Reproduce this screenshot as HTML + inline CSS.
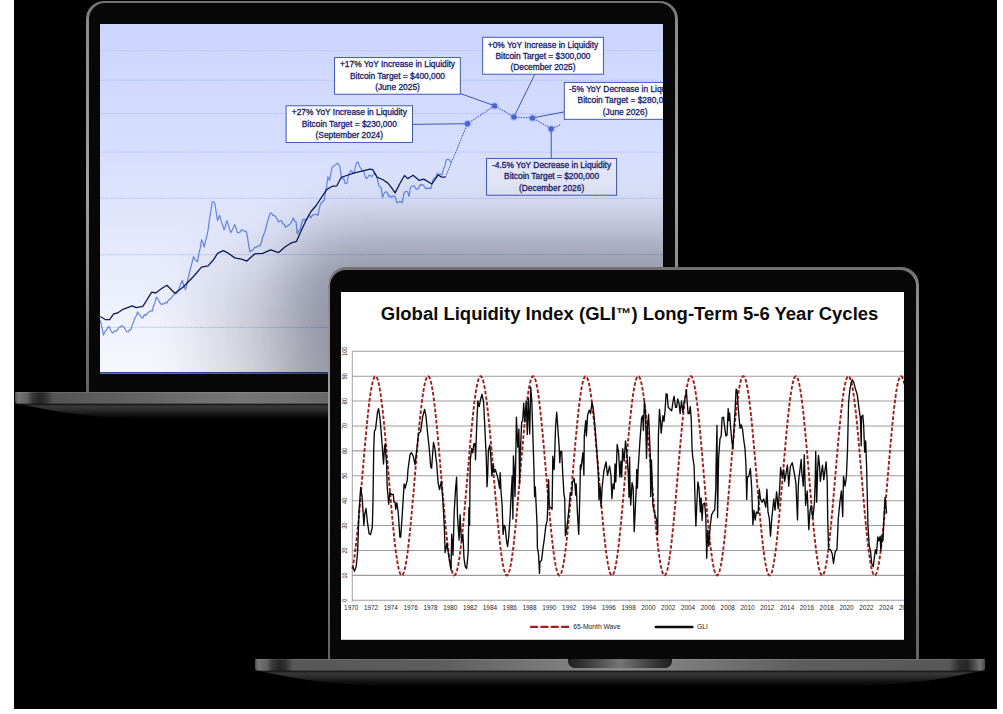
<!DOCTYPE html>
<html><head><meta charset="utf-8"><title>GLI</title>
<style>
html,body{margin:0;padding:0;background:#fff;}
body{width:1003px;height:714px;position:relative;overflow:hidden;font-family:"Liberation Sans",sans-serif;}
#bg{position:absolute;left:14px;top:0;width:983px;height:708.7px;background:#000;overflow:hidden;}
#stage{position:absolute;left:-14px;top:0;width:1003px;height:714px;}
.lid{position:absolute;box-sizing:border-box;border-radius:18px 18px 0 0;background:linear-gradient(180deg,#6f6f6f 0,#727272 3px,#8a8a8a 22px,#919191 13%,#a2a2a2 48%,#8c8c8c 70%,#6e6e6e 87%,#626262 100%);}
.lidin{position:absolute;left:2.3px;top:2.3px;right:2.3px;bottom:0;border-radius:16px 16px 0 0;background:#080808;}
.scr{position:absolute;display:block;}
.base{position:absolute;background:
 linear-gradient(180deg,rgba(255,255,255,.18) 0,rgba(255,255,255,.0) 1.5px,rgba(0,0,0,0) 10.5px,rgba(0,0,0,.55) 12.3px),
 linear-gradient(90deg,#4a4a4a 0,#747474 3px,#626262 12px,#3a3a3a 17px,#262626 24px,#2e2e2e 30px,#585858 38px,#5d5d5d 25%,#8d8d8d 50%,#5d5d5d 75%,#585858 calc(100% - 36px),#2e2e2e calc(100% - 26px),#262626 calc(100% - 18px),#4a4a4a calc(100% - 11px),#747474 calc(100% - 5px),#4a4a4a 100%);
 border-radius:1px 1px 3px 3px;}
.notch{position:absolute;top:0;height:9.4px;border-radius:0 0 7px 7px;background:linear-gradient(90deg,#1d1d1d 0,#3a3a3a 18%,#767676 50%,#3a3a3a 82%,#1d1d1d 100%);}
.under{position:absolute;display:block;}
.an{font-family:"Liberation Sans",sans-serif;font-size:8.4px;fill:#16216b;stroke:#16216b;stroke-width:.3px;}
.ttl{font-family:"Liberation Sans",sans-serif;font-size:18.5px;font-weight:bold;fill:#0b0b0b;}
.yl{font-family:"Liberation Sans",sans-serif;font-size:6.3px;fill:#2a2a2a;}
.xl{font-family:"Liberation Sans",sans-serif;font-size:6.4px;fill:#1c1c1c;}
.lg{font-family:"Liberation Sans",sans-serif;font-size:6.75px;fill:#1c1c1c;}
#b1{background:linear-gradient(180deg,rgba(255,255,255,.18) 0,rgba(255,255,255,.0) 1.5px,rgba(0,0,0,0) 10.5px,rgba(0,0,0,.55) 12.3px),linear-gradient(90deg,#4a4a4a 0,#747474 3px,#626262 12px,#3a3a3a 17px,#262626 24px,#2e2e2e 30px,#545454 38px,#606060 105px,#6c6c6c 165px,#767676 225px,#707070 275px,#696969 313px,#8d8d8d 50%,#5d5d5d 75%,#3a3a3a 100%);}
#sh{position:absolute;overflow:hidden;}
#sh div{position:absolute;border-radius:18px 18px 0 0;box-shadow:0 0 58px 41px rgba(5,8,26,.29),-120px -2px 66px 0 rgba(5,8,26,.15);}
</style></head><body>
<div id="bg"><div id="stage">
<div class="lid" id="l1" style="left:86.4px;top:0.6px;width:591.2px;height:392.6px"><div class="lidin"></div></div>
<svg class="scr" style="left:100.0px;top:24.0px" width="563.0" height="349.6" viewBox="100.0 24.0 563.0 349.6">
<defs><linearGradient id="g1" x1="0" y1="0" x2="0" y2="1"><stop offset="0" stop-color="#cbd5fe"/><stop offset="0.35" stop-color="#d6defd"/><stop offset="0.7" stop-color="#e9ecfc"/><stop offset="1" stop-color="#f7f8fe"/></linearGradient></defs>
<rect x="100.0" y="24.0" width="563.0" height="349.6" fill="url(#g1)"/>
<line x1="100" x2="663" y1="50.599999999999994" y2="50.599999999999994" stroke="#b0bcf7" stroke-width="0.9" stroke-dasharray="1.6 0.9"/>
<line x1="100" x2="663" y1="80.3" y2="80.3" stroke="#b0bcf7" stroke-width="0.9" stroke-dasharray="1.6 0.9"/>
<line x1="100" x2="663" y1="113.6" y2="113.6" stroke="#b0bcf7" stroke-width="0.9" stroke-dasharray="1.6 0.9"/>
<line x1="100" x2="663" y1="152.10000000000002" y2="152.10000000000002" stroke="#b0bcf7" stroke-width="0.9" stroke-dasharray="1.6 0.9"/>
<line x1="100" x2="663" y1="198.3" y2="198.3" stroke="#b0bcf7" stroke-width="0.9" stroke-dasharray="1.6 0.9"/>
<line x1="100" x2="663" y1="254.70000000000002" y2="254.70000000000002" stroke="#b0bcf7" stroke-width="0.9" stroke-dasharray="1.6 0.9"/>
<line x1="100" x2="663" y1="327.40000000000003" y2="327.40000000000003" stroke="#b0bcf7" stroke-width="0.9" stroke-dasharray="1.6 0.9"/>
<line x1="100" x2="663" y1="372.8" y2="372.8" stroke="#33479f" stroke-width="1.5"/>
<polyline points="100.3,320.5 101.9,327.3 103.5,335.1 105.1,331.4 106.7,329.8 108.3,326.6 109.6,327.6 111.0,331.0 112.3,333.0 113.6,332.0 115.0,330.6 116.3,331.1 117.6,329.8 118.9,327.2 120.3,327.0 121.6,325.8 122.9,326.2 124.3,327.8 125.7,330.2 127.0,331.9 128.3,332.0 129.6,329.5 130.9,329.8 132.2,325.1 133.6,322.1 134.9,317.8 136.2,316.0 137.6,311.9 138.9,314.1 140.3,315.6 141.6,317.8 142.9,318.0 144.2,314.6 145.6,315.7 146.9,313.8 148.2,312.6 149.6,311.5 150.9,310.8 152.2,311.1 153.5,306.0 154.9,302.7 156.2,297.3 157.5,298.3 158.9,301.1 160.2,303.1 161.6,304.5 162.9,303.8 164.2,303.9 165.6,302.3 166.9,303.1 168.2,300.4 169.5,299.2 170.9,298.8 172.2,296.6 173.5,295.2 174.8,293.8 176.2,293.6 177.5,292.5 179.1,288.4 180.7,284.0 182.3,280.5 183.9,285.9 185.5,289.8 186.8,284.6 188.2,277.6 189.5,272.5 190.8,267.4 192.2,262.0 193.5,256.6 194.8,259.3 196.2,260.7 197.5,261.9 198.8,254.0 200.2,248.4 201.5,239.8 202.8,242.5 204.2,247.2 205.5,241.2 206.8,236.3 208.1,229.9 209.4,219.7 210.8,211.3 212.1,202.0 213.4,201.5 214.8,203.3 216.2,212.4 217.5,220.6 219.6,215.3 221.1,220.9 222.6,225.2 224.1,229.9 225.4,226.2 226.8,220.6 228.1,224.1 229.5,229.1 230.8,232.6 232.1,230.2 233.5,227.5 234.8,224.6 236.1,228.5 237.4,232.6 238.7,232.6 240.1,232.0 241.4,229.9 243.0,230.3 244.6,231.3 246.2,231.3 247.5,237.0 248.7,245.5 250.0,251.8 251.6,250.6 253.1,250.0 254.7,247.2 256.1,247.7 257.4,246.0 258.8,245.9 260.1,245.9 261.4,242.3 262.8,236.7 264.1,233.8 265.4,229.9 267.0,223.5 268.6,217.8 270.2,213.2 271.4,212.8 272.7,215.3 273.9,215.3 275.5,216.5 277.1,219.0 278.7,221.9 280.0,221.0 281.4,220.6 282.7,223.8 284.1,224.0 285.4,227.3 286.7,226.3 288.1,225.6 289.4,224.6 290.7,223.4 292.0,221.0 293.3,218.0 294.6,220.9 296.0,221.9 297.3,233.9 298.6,231.2 300.0,229.7 301.4,224.6 302.7,219.9 303.9,219.2 305.1,220.3 306.3,219.0 307.6,217.9 309.0,214.5 310.8,218.0 312.0,215.9 313.2,214.8 314.4,214.5 316.1,214.3 317.9,215.4 319.2,208.9 320.6,203.7 321.8,202.5 323.0,201.5 324.2,200.1 325.5,191.9 326.9,184.9 327.8,176.8 329.6,180.4 331.0,172.4 332.3,166.9 334.1,166.0 335.3,164.9 336.5,163.9 337.7,163.3 338.8,164.8 339.8,166.0 341.3,176.8 342.6,178.9 344.0,178.6 344.9,183.1 345.9,183.6 347.0,183.1 348.8,174.1 350.0,172.3 351.1,170.5 352.5,172.2 353.8,173.2 354.9,169.2 356.0,164.2 357.1,162.1 358.3,162.4 359.6,166.6 361.0,168.7 362.4,170.8 363.7,171.4 365.0,176.0 366.4,178.6 367.8,177.6 369.1,175.0 370.5,175.6 371.8,176.8 373.1,174.7 374.5,173.2 375.9,174.9 377.2,178.6 379.0,185.8 380.1,187.0 381.1,187.6 382.6,197.4 383.9,193.6 385.2,192.0 387.0,192.0 388.8,196.5 390.1,195.8 391.5,197.4 392.7,196.3 393.9,195.9 395.1,196.5 396.9,202.8 398.2,202.4 399.6,201.6 400.9,201.5 402.3,202.8 404.1,192.9 405.3,191.7 406.5,191.3 407.7,192.0 409.1,196.5 410.4,187.6 411.8,186.3 413.1,185.8 414.5,185.9 415.8,188.5 417.1,189.5 418.5,188.5 420.2,184.5 421.4,185.2 422.6,184.5 423.8,185.8 425.6,188.8 427.0,188.1 428.3,188.3 429.6,188.2 431.0,188.5 432.8,180.4 434.1,178.1 435.5,177.7 437.3,173.2 438.6,174.6 440.0,174.1 441.8,175.0 443.6,168.7 445.0,165.5 446.3,159.7 447.6,159.5 449.0,159.4 450.8,162.4" fill="none" stroke="#6486e4" stroke-width="1.2" stroke-linejoin="round"/>
<polyline points="100.3,316.5 105.6,319.7 109.6,319.7 113.6,313.8 117.6,313.0 123.0,309.3 132.3,305.8 136.3,307.7 142.9,306.3 151.7,292.2 155.7,293.0 161.6,288.5 166.9,285.3 174.9,293.3 182.9,287.2 193.5,276.5 201.5,267.2 208.1,265.9 213.5,259.8 217.5,253.4 223.3,250.7 228.1,253.1 234.8,257.9 241.4,259.2 246.8,261.1 254.7,253.9 262.7,253.4 270.7,249.9 278.7,252.6 284.6,247.2 290.7,243.2 296.5,241.4 300.0,233.3 305.4,221.7 310.8,211.8 316.2,205.5 321.5,197.4 326.9,189.4 332.3,186.3 336.8,185.8 341.3,177.3 346.7,175.5 353.8,173.2 362.8,170.9 370.0,169.1 372.7,169.6 377.2,177.3 382.6,179.5 387.9,183.1 391.5,187.6 395.1,192.9 399.6,184.0 404.5,175.5 407.7,178.6 413.1,175.2 419.3,180.4 423.8,179.1 431.9,184.0 438.2,175.0 441.8,177.2 445.4,177.2" fill="none" stroke="#101c5a" stroke-width="1.3" stroke-linejoin="round"/>
<polyline points="445.4,177.2 467.5,123.7 494.6,105.8 513.9,117.0 532.5,118.0 551.2,128.8 561.4,124.4" fill="none" stroke="#3a57c0" stroke-width="1.1" stroke-dasharray="1.4 1.2"/>
<line x1="412.5" y1="124.4" x2="467.5" y2="123.7" stroke="#2d46ad" stroke-width="0.9"/>
<line x1="460.3" y1="93.5" x2="494.6" y2="105.8" stroke="#2d46ad" stroke-width="0.9"/>
<line x1="534.9" y1="74.2" x2="513.9" y2="117" stroke="#2d46ad" stroke-width="0.9"/>
<line x1="564.3" y1="111.9" x2="532.4" y2="117.9" stroke="#2d46ad" stroke-width="0.9"/>
<line x1="551.2" y1="158.3" x2="551.2" y2="128.8" stroke="#2d46ad" stroke-width="0.9"/>
<circle cx="467.5" cy="123.7" r="3.9" fill="#5a78e0" fill-opacity="0.28"/>
<circle cx="467.5" cy="123.7" r="2.6" fill="#4664d2"/>
<circle cx="494.6" cy="105.8" r="3.9" fill="#5a78e0" fill-opacity="0.28"/>
<circle cx="494.6" cy="105.8" r="2.6" fill="#4664d2"/>
<circle cx="513.9" cy="117" r="3.9" fill="#5a78e0" fill-opacity="0.28"/>
<circle cx="513.9" cy="117" r="2.6" fill="#4664d2"/>
<circle cx="532.5" cy="118" r="3.9" fill="#5a78e0" fill-opacity="0.28"/>
<circle cx="532.5" cy="118" r="2.6" fill="#4664d2"/>
<circle cx="551.2" cy="128.8" r="3.9" fill="#5a78e0" fill-opacity="0.28"/>
<circle cx="551.2" cy="128.8" r="2.6" fill="#4664d2"/>
<rect x="286.1" y="105.8" width="126.4" height="36.6" fill="#ffffff" stroke="#3048b0" stroke-width="0.9"/>
<text x="349.3" y="115.3" text-anchor="middle" class="an">+27% YoY Increase in Liquidity</text>
<text x="349.3" y="126.7" text-anchor="middle" class="an">Bitcoin Target = $230,000</text>
<text x="349.3" y="138.0" text-anchor="middle" class="an">(September 2024)</text>
<rect x="334.6" y="57.6" width="125.7" height="36.6" fill="#ffffff" stroke="#3048b0" stroke-width="0.9"/>
<text x="397.5" y="66.9" text-anchor="middle" class="an">+17% YoY Increase in Liquidity</text>
<text x="397.5" y="78.8" text-anchor="middle" class="an">Bitcoin Target = $400,000</text>
<text x="397.5" y="90.2" text-anchor="middle" class="an">(June 2025)</text>
<rect x="482.7" y="37.3" width="120.7" height="36.9" fill="#ffffff" stroke="#3048b0" stroke-width="0.9"/>
<text x="543.0" y="47.8" text-anchor="middle" class="an">+0% YoY Increase in Liquidity</text>
<text x="543.0" y="58.8" text-anchor="middle" class="an">Bitcoin Target = $300,000</text>
<text x="543.0" y="69.8" text-anchor="middle" class="an">(December 2025)</text>
<rect x="564.3" y="82.4" width="135.7" height="36.9" fill="#ffffff" stroke="#3048b0" stroke-width="0.9"/>
<text x="625.1" y="91.9" text-anchor="middle" class="an">-5% YoY Decrease in Liquidity</text>
<text x="625.1" y="103.2" text-anchor="middle" class="an">Bitcoin Target = $280,000</text>
<text x="625.1" y="114.8" text-anchor="middle" class="an">(June 2026)</text>
<rect x="486.6" y="158.4" width="130.0" height="36.8" fill="#e3e7f8" stroke="#3048b0" stroke-width="0.9"/>
<text x="551.6" y="168.0" text-anchor="middle" class="an">-4.5% YoY Decrease in Liquidity</text>
<text x="551.6" y="179.2" text-anchor="middle" class="an">Bitcoin Target = $200,000</text>
<text x="551.6" y="190.8" text-anchor="middle" class="an">(December 2026)</text>
</svg>
<div id="sh" style="left:100.0px;top:24.0px;width:563.0px;height:349.6px"><div style="left:227.60000000000002px;top:243.3px;width:591.0px;height:391.7px"></div></div>
<div class="lid" id="l2" style="left:327.6px;top:267.3px;width:591.0px;height:391.7px"><div class="lidin"></div></div>
<div style="position:absolute;left:0;top:0;width:327.6px;height:714px;overflow:hidden"><div class="base" id="b1" style="left:14.8px;top:392.1px;width:729.5px;height:12.3px"></div><svg class="under" style="left:14.8px;top:404.00000000000006px" width="729.5" height="18" viewBox="0 0 729.5 18"><defs><linearGradient id="ub1" gradientUnits="userSpaceOnUse" x1="0" y1="0" x2="0" y2="16"><stop offset="0" stop-color="#141414"/><stop offset="0.14" stop-color="#383838"/><stop offset="0.38" stop-color="#2b2b2b"/><stop offset="0.7" stop-color="#101010"/><stop offset="1" stop-color="#000"/></linearGradient></defs><path d="M0,0 L0.0,0.00 L1.0,0.00 L2.0,0.08 L3.0,0.19 L4.0,0.32 L5.0,0.47 L6.0,0.62 L7.0,0.78 L8.0,0.95 L9.0,1.12 L10.0,1.30 L11.0,1.48 L12.0,1.67 L13.0,1.86 L14.0,2.05 L15.0,2.24 L16.0,2.43 L17.0,2.63 L18.0,2.82 L19.0,3.02 L20.0,3.21 L21.0,3.41 L22.0,3.61 L23.0,3.80 L24.0,4.00 L25.0,4.19 L26.0,4.39 L27.0,4.58 L28.0,4.77 L29.0,4.96 L30.0,5.15 L31.0,5.34 L32.0,5.53 L33.0,5.71 L34.0,5.90 L35.0,6.08 L36.0,6.26 L37.0,6.44 L38.0,6.61 L39.0,6.79 L40.0,6.96 L41.0,7.13 L42.0,7.30 L43.0,7.47 L44.0,7.63 L45.0,7.80 L46.0,7.96 L47.0,8.12 L48.0,8.27 L49.0,8.43 L50.0,8.58 L51.0,8.73 L52.0,8.88 L53.0,9.02 L54.0,9.17 L55.0,9.31 L56.0,9.45 L57.0,9.59 L58.0,9.72 L59.0,9.85 L60.0,9.99 L61.0,10.11 L62.0,10.24 L63.0,10.36 L64.0,10.49 L65.0,10.61 L66.0,10.73 L67.0,10.84 L68.0,10.96 L69.0,11.07 L70.0,11.18 L71.0,11.29 L72.0,11.39 L73.0,11.50 L74.0,11.60 L75.0,11.70 L76.0,11.80 L77.0,11.89 L78.0,11.99 L79.0,12.08 L80.0,12.17 L81.0,12.26 L82.0,12.35 L83.0,12.43 L84.0,12.52 L85.0,12.60 L86.0,12.68 L87.0,12.76 L88.0,12.84 L89.0,12.91 L90.0,12.99 L91.0,13.06 L92.0,13.13 L93.0,13.20 L94.0,13.27 L95.0,13.34 L96.0,13.40 L97.0,13.46 L98.0,13.53 L99.0,13.59 L100.0,13.65 L101.0,13.71 L102.0,13.76 L103.0,13.82 L104.0,13.87 L105.0,13.93 L106.0,13.98 L107.0,14.03 L108.0,14.08 L109.0,14.13 L110.0,14.18 L111.0,14.23 L112.0,14.27 L113.0,14.32 L114.0,14.36 L115.0,14.40 L116.0,14.44 L117.0,14.48 L118.0,14.52 L119.0,14.56 L120.0,14.60 L121.0,14.64 L122.0,14.67 L123.0,14.71 L124.0,14.74 L125.0,14.77 L126.0,14.81 L127.0,14.84 L128.0,14.87 L129.0,14.90 L130.0,14.93 L131.0,14.96 L132.0,14.99 L133.0,15.01 L134.0,15.04 L135.0,15.07 L136.0,15.09 L137.0,15.12 L138.0,15.14 L139.0,15.16 L140.0,15.19 L141.0,15.21 L142.0,15.23 L143.0,15.25 L144.0,15.27 L145.0,15.29 L146.0,15.31 L147.0,15.33 L148.0,15.35 L149.0,15.37 L150.0,15.39 L151.0,15.40 L152.0,15.42 L153.0,15.44 L154.0,15.45 L155.0,15.47 L156.0,15.48 L157.0,15.50 L158.0,15.51 L159.0,15.53 L160.0,15.54 L161.0,15.55 L162.0,15.57 L163.0,15.58 L164.0,15.59 L165.0,15.60 L166.0,15.61 L167.0,15.63 L168.0,15.64 L169.0,15.65 L170.0,15.66 L171.0,15.67 L172.0,15.68 L173.0,15.69 L174.0,15.70 L175.0,15.70 L176.0,15.71 L177.0,15.72 L178.0,15.73 L179.0,15.74 L180.0,15.75 L181.0,15.75 L182.0,15.76 L183.0,15.77 L184.0,15.77 L185.0,15.78 L186.0,15.79 L187.0,15.79 L188.0,15.80 L189.0,15.81 L190.0,15.81 L191.0,15.82 L192.0,15.82 L193.0,15.83 L194.0,15.83 L195.0,15.84 L196.0,15.84 L197.0,15.85 L198.0,15.85 L199.0,15.86 L200.0,15.86 L201.0,15.87 L202.0,15.87 L203.0,15.87 L204.0,15.88 L205.0,15.88 L206.0,15.89 L207.0,15.89 L208.0,15.89 L209.0,15.90 L210.0,15.90 L211.0,15.90 L212.0,15.91 L213.0,15.91 L214.0,15.91 L215.0,15.91 L216.0,15.92 L217.0,15.92 L218.0,15.92 L219.0,15.92 L220.0,15.93 L221.0,15.93 L222.0,15.93 L223.0,15.93 L224.0,15.94 L225.0,15.94 L226.0,15.94 L227.0,15.94 L228.0,15.94 L229.0,15.94 L230.0,15.95 L231.0,15.95 L232.0,15.95 L233.0,15.95 L234.0,15.95 L235.0,15.95 L236.0,15.96 L237.0,15.96 L238.0,15.96 L239.0,15.96 L240.0,15.96 L241.0,15.96 L242.0,15.96 L243.0,15.97 L244.0,15.97 L245.0,15.97 L246.0,15.97 L247.0,15.97 L248.0,15.97 L249.0,15.97 L250.0,15.97 L251.0,15.97 L252.0,15.97 L253.0,15.97 L254.0,15.98 L255.0,15.98 L256.0,15.98 L257.0,15.98 L258.0,15.98 L259.0,15.98 L260.0,15.98 L261.0,15.98 L262.0,15.98 L263.0,15.98 L264.0,15.98 L265.0,15.98 L266.0,15.98 L267.0,15.98 L268.0,15.98 L269.0,15.99 L270.0,15.99 L271.0,15.99 L272.0,15.99 L273.0,15.99 L274.0,15.99 L275.0,15.99 L276.0,15.99 L277.0,15.99 L278.0,15.99 L279.0,15.99 L280.0,15.99 L281.0,15.99 L282.0,15.99 L283.0,15.99 L284.0,15.99 L285.0,15.99 L286.0,15.99 L287.0,15.99 L288.0,15.99 L289.0,15.99 L290.0,15.99 L291.0,15.99 L292.0,15.99 L293.0,15.99 L294.0,15.99 L295.0,15.99 L296.0,15.99 L297.0,15.99 L298.0,15.99 L299.0,15.99 L300.0,15.99 L301.0,16.00 L302.0,16.00 L303.0,16.00 L304.0,16.00 L305.0,16.00 L306.0,16.00 L307.0,16.00 L308.0,16.00 L309.0,16.00 L310.0,16.00 L311.0,16.00 L312.0,16.00 L313.0,16.00 L314.0,16.00 L315.0,16.00 L316.0,16.00 L317.0,16.00 L318.0,16.00 L319.0,16.00 L320.0,16.00 L321.0,16.00 L322.0,16.00 L323.0,16.00 L324.0,16.00 L325.0,16.00 L326.0,16.00 L327.0,16.00 L328.0,16.00 L329.0,16.00 L330.0,16.00 L331.0,16.00 L332.0,16.00 L333.0,16.00 L334.0,16.00 L335.0,16.00 L336.0,16.00 L337.0,16.00 L338.0,16.00 L339.0,16.00 L340.0,16.00 L341.0,16.00 L342.0,16.00 L343.0,16.00 L344.0,16.00 L345.0,16.00 L346.0,16.00 L347.0,16.00 L348.0,16.00 L349.0,16.00 L350.0,16.00 L351.0,16.00 L352.0,16.00 L353.0,16.00 L354.0,16.00 L355.0,16.00 L356.0,16.00 L357.0,16.00 L358.0,16.00 L359.0,16.00 L360.0,16.00 L361.0,16.00 L362.0,16.00 L363.0,16.00 L364.0,16.00 L365.0,16.00 L366.0,16.00 L367.0,16.00 L368.0,16.00 L369.0,16.00 L370.0,16.00 L371.0,16.00 L372.0,16.00 L373.0,16.00 L374.0,16.00 L375.0,16.00 L376.0,16.00 L377.0,16.00 L378.0,16.00 L379.0,16.00 L380.0,16.00 L381.0,16.00 L382.0,16.00 L383.0,16.00 L384.0,16.00 L385.0,16.00 L386.0,16.00 L387.0,16.00 L388.0,16.00 L389.0,16.00 L390.0,16.00 L391.0,16.00 L392.0,16.00 L393.0,16.00 L394.0,16.00 L395.0,16.00 L396.0,16.00 L397.0,16.00 L398.0,16.00 L399.0,16.00 L400.0,16.00 L401.0,16.00 L402.0,16.00 L403.0,16.00 L404.0,16.00 L405.0,16.00 L406.0,16.00 L407.0,16.00 L408.0,16.00 L409.0,16.00 L410.0,16.00 L411.0,16.00 L412.0,16.00 L413.0,16.00 L414.0,16.00 L415.0,16.00 L416.0,16.00 L417.0,16.00 L418.0,16.00 L419.0,16.00 L420.0,16.00 L421.0,16.00 L422.0,16.00 L423.0,16.00 L424.0,16.00 L425.0,16.00 L426.0,16.00 L427.0,16.00 L428.0,16.00 L429.0,16.00 L430.0,15.99 L431.0,15.99 L432.0,15.99 L433.0,15.99 L434.0,15.99 L435.0,15.99 L436.0,15.99 L437.0,15.99 L438.0,15.99 L439.0,15.99 L440.0,15.99 L441.0,15.99 L442.0,15.99 L443.0,15.99 L444.0,15.99 L445.0,15.99 L446.0,15.99 L447.0,15.99 L448.0,15.99 L449.0,15.99 L450.0,15.99 L451.0,15.99 L452.0,15.99 L453.0,15.99 L454.0,15.99 L455.0,15.99 L456.0,15.99 L457.0,15.99 L458.0,15.99 L459.0,15.99 L460.0,15.99 L461.0,15.99 L462.0,15.98 L463.0,15.98 L464.0,15.98 L465.0,15.98 L466.0,15.98 L467.0,15.98 L468.0,15.98 L469.0,15.98 L470.0,15.98 L471.0,15.98 L472.0,15.98 L473.0,15.98 L474.0,15.98 L475.0,15.98 L476.0,15.98 L477.0,15.97 L478.0,15.97 L479.0,15.97 L480.0,15.97 L481.0,15.97 L482.0,15.97 L483.0,15.97 L484.0,15.97 L485.0,15.97 L486.0,15.97 L487.0,15.96 L488.0,15.96 L489.0,15.96 L490.0,15.96 L491.0,15.96 L492.0,15.96 L493.0,15.96 L494.0,15.96 L495.0,15.95 L496.0,15.95 L497.0,15.95 L498.0,15.95 L499.0,15.95 L500.0,15.95 L501.0,15.94 L502.0,15.94 L503.0,15.94 L504.0,15.94 L505.0,15.94 L506.0,15.93 L507.0,15.93 L508.0,15.93 L509.0,15.93 L510.0,15.93 L511.0,15.92 L512.0,15.92 L513.0,15.92 L514.0,15.92 L515.0,15.91 L516.0,15.91 L517.0,15.91 L518.0,15.90 L519.0,15.90 L520.0,15.90 L521.0,15.89 L522.0,15.89 L523.0,15.89 L524.0,15.88 L525.0,15.88 L526.0,15.88 L527.0,15.87 L528.0,15.87 L529.0,15.86 L530.0,15.86 L531.0,15.86 L532.0,15.85 L533.0,15.85 L534.0,15.84 L535.0,15.84 L536.0,15.83 L537.0,15.83 L538.0,15.82 L539.0,15.81 L540.0,15.81 L541.0,15.80 L542.0,15.80 L543.0,15.79 L544.0,15.78 L545.0,15.78 L546.0,15.77 L547.0,15.76 L548.0,15.76 L549.0,15.75 L550.0,15.74 L551.0,15.73 L552.0,15.73 L553.0,15.72 L554.0,15.71 L555.0,15.70 L556.0,15.69 L557.0,15.68 L558.0,15.67 L559.0,15.66 L560.0,15.65 L561.0,15.64 L562.0,15.63 L563.0,15.62 L564.0,15.61 L565.0,15.60 L566.0,15.58 L567.0,15.57 L568.0,15.56 L569.0,15.55 L570.0,15.53 L571.0,15.52 L572.0,15.51 L573.0,15.49 L574.0,15.48 L575.0,15.46 L576.0,15.45 L577.0,15.43 L578.0,15.41 L579.0,15.40 L580.0,15.38 L581.0,15.36 L582.0,15.34 L583.0,15.32 L584.0,15.30 L585.0,15.28 L586.0,15.26 L587.0,15.24 L588.0,15.22 L589.0,15.20 L590.0,15.18 L591.0,15.15 L592.0,15.13 L593.0,15.11 L594.0,15.08 L595.0,15.05 L596.0,15.03 L597.0,15.00 L598.0,14.97 L599.0,14.94 L600.0,14.92 L601.0,14.89 L602.0,14.85 L603.0,14.82 L604.0,14.79 L605.0,14.76 L606.0,14.72 L607.0,14.69 L608.0,14.65 L609.0,14.62 L610.0,14.58 L611.0,14.54 L612.0,14.50 L613.0,14.46 L614.0,14.42 L615.0,14.38 L616.0,14.34 L617.0,14.29 L618.0,14.25 L619.0,14.20 L620.0,14.15 L621.0,14.11 L622.0,14.06 L623.0,14.01 L624.0,13.95 L625.0,13.90 L626.0,13.85 L627.0,13.79 L628.0,13.74 L629.0,13.68 L630.0,13.62 L631.0,13.56 L632.0,13.50 L633.0,13.43 L634.0,13.37 L635.0,13.30 L636.0,13.23 L637.0,13.17 L638.0,13.10 L639.0,13.02 L640.0,12.95 L641.0,12.87 L642.0,12.80 L643.0,12.72 L644.0,12.64 L645.0,12.56 L646.0,12.48 L647.0,12.39 L648.0,12.30 L649.0,12.22 L650.0,12.13 L651.0,12.03 L652.0,11.94 L653.0,11.84 L654.0,11.75 L655.0,11.65 L656.0,11.55 L657.0,11.44 L658.0,11.34 L659.0,11.23 L660.0,11.12 L661.0,11.01 L662.0,10.90 L663.0,10.78 L664.0,10.67 L665.0,10.55 L666.0,10.43 L667.0,10.30 L668.0,10.18 L669.0,10.05 L670.0,9.92 L671.0,9.79 L672.0,9.65 L673.0,9.52 L674.0,9.38 L675.0,9.24 L676.0,9.10 L677.0,8.95 L678.0,8.81 L679.0,8.66 L680.0,8.50 L681.0,8.35 L682.0,8.20 L683.0,8.04 L684.0,7.88 L685.0,7.72 L686.0,7.55 L687.0,7.39 L688.0,7.22 L689.0,7.05 L690.0,6.88 L691.0,6.70 L692.0,6.53 L693.0,6.35 L694.0,6.17 L695.0,5.99 L696.0,5.80 L697.0,5.62 L698.0,5.43 L699.0,5.25 L700.0,5.06 L701.0,4.87 L702.0,4.68 L703.0,4.48 L704.0,4.29 L705.0,4.10 L706.0,3.90 L707.0,3.70 L708.0,3.51 L709.0,3.31 L710.0,3.12 L711.0,2.92 L712.0,2.72 L713.0,2.53 L714.0,2.34 L715.0,2.14 L716.0,1.95 L717.0,1.76 L718.0,1.58 L719.0,1.39 L720.0,1.21 L721.0,1.04 L722.0,0.87 L723.0,0.70 L724.0,0.54 L725.0,0.39 L726.0,0.25 L727.0,0.13 L728.0,0.03 L729.0,0.00 L729.5,0 Z" fill="url(#ub1)"/></svg></div>
<svg class="scr" style="left:341.0px;top:292.0px" width="563.0" height="347.8" viewBox="341.0 292.0 563.0 347.8">
<rect x="341.0" y="292.0" width="563.0" height="347.8" fill="#ffffff"/>
<text x="380.8" y="319.8" class="ttl">Global Liquidity Index (GLI<tspan font-size="15.5" dy="-0.5">™</tspan><tspan dy="0.5">)</tspan> Long-Term 5-6 Year Cycles</text>
<line x1="352.3" x2="904" y1="600.3" y2="600.3" stroke="#9c9c9c" stroke-width="1.05"/>
<text transform="translate(346.8,600.3) rotate(-90) scale(0.87,1)" text-anchor="middle" class="yl">0</text>
<line x1="352.3" x2="904" y1="575.4" y2="575.4" stroke="#9c9c9c" stroke-width="1.05"/>
<text transform="translate(346.8,575.4) rotate(-90) scale(0.87,1)" text-anchor="middle" class="yl">10</text>
<line x1="352.3" x2="904" y1="550.5" y2="550.5" stroke="#9c9c9c" stroke-width="1.05"/>
<text transform="translate(346.8,550.5) rotate(-90) scale(0.87,1)" text-anchor="middle" class="yl">20</text>
<line x1="352.3" x2="904" y1="525.6" y2="525.6" stroke="#9c9c9c" stroke-width="1.05"/>
<text transform="translate(346.8,525.6) rotate(-90) scale(0.87,1)" text-anchor="middle" class="yl">30</text>
<line x1="352.3" x2="904" y1="500.7" y2="500.7" stroke="#9c9c9c" stroke-width="1.05"/>
<text transform="translate(346.8,500.7) rotate(-90) scale(0.87,1)" text-anchor="middle" class="yl">40</text>
<line x1="352.3" x2="904" y1="475.8" y2="475.8" stroke="#9c9c9c" stroke-width="1.05"/>
<text transform="translate(346.8,475.8) rotate(-90) scale(0.87,1)" text-anchor="middle" class="yl">50</text>
<line x1="352.3" x2="904" y1="450.9" y2="450.9" stroke="#9c9c9c" stroke-width="1.05"/>
<text transform="translate(346.8,450.9) rotate(-90) scale(0.87,1)" text-anchor="middle" class="yl">60</text>
<line x1="352.3" x2="904" y1="426.0" y2="426.0" stroke="#9c9c9c" stroke-width="1.05"/>
<text transform="translate(346.8,426.0) rotate(-90) scale(0.87,1)" text-anchor="middle" class="yl">70</text>
<line x1="352.3" x2="904" y1="401.1" y2="401.1" stroke="#9c9c9c" stroke-width="1.05"/>
<text transform="translate(346.8,401.1) rotate(-90) scale(0.87,1)" text-anchor="middle" class="yl">80</text>
<line x1="352.3" x2="904" y1="376.2" y2="376.2" stroke="#9c9c9c" stroke-width="1.05"/>
<text transform="translate(346.8,376.2) rotate(-90) scale(0.87,1)" text-anchor="middle" class="yl">90</text>
<line x1="352.3" x2="904" y1="351.3" y2="351.3" stroke="#9c9c9c" stroke-width="1.05"/>
<text transform="translate(346.8,351.3) rotate(-90) scale(0.87,1)" text-anchor="middle" class="yl">100</text>
<line x1="352.3" x2="352.3" y1="351.3" y2="600.3" stroke="#8c8c8c" stroke-width="0.8"/>
<line x1="352.2" x2="352.2" y1="600.3" y2="601.9" stroke="#8c8c8c" stroke-width="0.6"/>
<text x="351.2" y="609.8" text-anchor="middle" class="xl">1970</text>
<line x1="372.0" x2="372.0" y1="600.3" y2="601.9" stroke="#8c8c8c" stroke-width="0.6"/>
<text x="371.0" y="609.8" text-anchor="middle" class="xl">1972</text>
<line x1="391.8" x2="391.8" y1="600.3" y2="601.9" stroke="#8c8c8c" stroke-width="0.6"/>
<text x="390.8" y="609.8" text-anchor="middle" class="xl">1974</text>
<line x1="411.6" x2="411.6" y1="600.3" y2="601.9" stroke="#8c8c8c" stroke-width="0.6"/>
<text x="410.6" y="609.8" text-anchor="middle" class="xl">1976</text>
<line x1="431.5" x2="431.5" y1="600.3" y2="601.9" stroke="#8c8c8c" stroke-width="0.6"/>
<text x="430.5" y="609.8" text-anchor="middle" class="xl">1978</text>
<line x1="451.3" x2="451.3" y1="600.3" y2="601.9" stroke="#8c8c8c" stroke-width="0.6"/>
<text x="450.3" y="609.8" text-anchor="middle" class="xl">1980</text>
<line x1="471.1" x2="471.1" y1="600.3" y2="601.9" stroke="#8c8c8c" stroke-width="0.6"/>
<text x="470.1" y="609.8" text-anchor="middle" class="xl">1982</text>
<line x1="490.9" x2="490.9" y1="600.3" y2="601.9" stroke="#8c8c8c" stroke-width="0.6"/>
<text x="489.9" y="609.8" text-anchor="middle" class="xl">1984</text>
<line x1="510.7" x2="510.7" y1="600.3" y2="601.9" stroke="#8c8c8c" stroke-width="0.6"/>
<text x="509.7" y="609.8" text-anchor="middle" class="xl">1986</text>
<line x1="530.5" x2="530.5" y1="600.3" y2="601.9" stroke="#8c8c8c" stroke-width="0.6"/>
<text x="529.5" y="609.8" text-anchor="middle" class="xl">1988</text>
<line x1="550.3" x2="550.3" y1="600.3" y2="601.9" stroke="#8c8c8c" stroke-width="0.6"/>
<text x="549.3" y="609.8" text-anchor="middle" class="xl">1990</text>
<line x1="570.2" x2="570.2" y1="600.3" y2="601.9" stroke="#8c8c8c" stroke-width="0.6"/>
<text x="569.2" y="609.8" text-anchor="middle" class="xl">1992</text>
<line x1="590.0" x2="590.0" y1="600.3" y2="601.9" stroke="#8c8c8c" stroke-width="0.6"/>
<text x="589.0" y="609.8" text-anchor="middle" class="xl">1994</text>
<line x1="609.8" x2="609.8" y1="600.3" y2="601.9" stroke="#8c8c8c" stroke-width="0.6"/>
<text x="608.8" y="609.8" text-anchor="middle" class="xl">1996</text>
<line x1="629.6" x2="629.6" y1="600.3" y2="601.9" stroke="#8c8c8c" stroke-width="0.6"/>
<text x="628.6" y="609.8" text-anchor="middle" class="xl">1998</text>
<line x1="649.4" x2="649.4" y1="600.3" y2="601.9" stroke="#8c8c8c" stroke-width="0.6"/>
<text x="648.4" y="609.8" text-anchor="middle" class="xl">2000</text>
<line x1="669.2" x2="669.2" y1="600.3" y2="601.9" stroke="#8c8c8c" stroke-width="0.6"/>
<text x="668.2" y="609.8" text-anchor="middle" class="xl">2002</text>
<line x1="689.0" x2="689.0" y1="600.3" y2="601.9" stroke="#8c8c8c" stroke-width="0.6"/>
<text x="688.0" y="609.8" text-anchor="middle" class="xl">2004</text>
<line x1="708.9" x2="708.9" y1="600.3" y2="601.9" stroke="#8c8c8c" stroke-width="0.6"/>
<text x="707.9" y="609.8" text-anchor="middle" class="xl">2006</text>
<line x1="728.7" x2="728.7" y1="600.3" y2="601.9" stroke="#8c8c8c" stroke-width="0.6"/>
<text x="727.7" y="609.8" text-anchor="middle" class="xl">2008</text>
<line x1="748.5" x2="748.5" y1="600.3" y2="601.9" stroke="#8c8c8c" stroke-width="0.6"/>
<text x="747.5" y="609.8" text-anchor="middle" class="xl">2010</text>
<line x1="768.3" x2="768.3" y1="600.3" y2="601.9" stroke="#8c8c8c" stroke-width="0.6"/>
<text x="767.3" y="609.8" text-anchor="middle" class="xl">2012</text>
<line x1="788.1" x2="788.1" y1="600.3" y2="601.9" stroke="#8c8c8c" stroke-width="0.6"/>
<text x="787.1" y="609.8" text-anchor="middle" class="xl">2014</text>
<line x1="807.9" x2="807.9" y1="600.3" y2="601.9" stroke="#8c8c8c" stroke-width="0.6"/>
<text x="806.9" y="609.8" text-anchor="middle" class="xl">2016</text>
<line x1="827.7" x2="827.7" y1="600.3" y2="601.9" stroke="#8c8c8c" stroke-width="0.6"/>
<text x="826.7" y="609.8" text-anchor="middle" class="xl">2018</text>
<line x1="847.5" x2="847.5" y1="600.3" y2="601.9" stroke="#8c8c8c" stroke-width="0.6"/>
<text x="846.5" y="609.8" text-anchor="middle" class="xl">2020</text>
<line x1="867.4" x2="867.4" y1="600.3" y2="601.9" stroke="#8c8c8c" stroke-width="0.6"/>
<text x="866.4" y="609.8" text-anchor="middle" class="xl">2022</text>
<line x1="887.2" x2="887.2" y1="600.3" y2="601.9" stroke="#8c8c8c" stroke-width="0.6"/>
<text x="886.2" y="609.8" text-anchor="middle" class="xl">2024</text>
<line x1="907.0" x2="907.0" y1="600.3" y2="601.9" stroke="#8c8c8c" stroke-width="0.6"/>
<text x="906.0" y="609.8" text-anchor="middle" class="xl">2026</text>
<polyline points="352.3,568.7 352.8,566.4 353.3,563.8 353.8,560.9 354.3,557.6 354.8,554.1 355.3,550.3 355.8,546.2 356.3,541.8 356.8,537.3 357.3,532.5 357.8,527.5 358.3,522.3 358.8,517.0 359.3,511.5 359.8,505.8 360.3,500.1 360.8,494.3 361.3,488.4 361.8,482.5 362.3,476.5 362.8,470.6 363.3,464.7 363.8,458.8 364.3,452.9 364.8,447.2 365.3,441.5 365.8,436.0 366.3,430.6 366.8,425.4 367.3,420.4 367.8,415.5 368.3,410.9 368.8,406.5 369.3,402.3 369.8,398.4 370.3,394.8 370.8,391.5 371.3,388.5 371.8,385.8 372.3,383.4 372.8,381.3 373.3,379.6 373.8,378.3 374.3,377.2 374.8,376.5 375.3,376.2 375.8,376.3 376.3,376.7 376.8,377.4 377.3,378.5 377.8,379.9 378.3,381.7 378.8,383.9 379.3,386.3 379.8,389.1 380.3,392.2 380.8,395.5 381.3,399.2 381.8,403.1 382.3,407.3 382.8,411.8 383.3,416.5 383.8,421.4 384.3,426.4 384.8,431.7 385.3,437.1 385.8,442.7 386.3,448.3 386.8,454.1 387.3,459.9 387.8,465.8 388.3,471.8 388.8,477.7 389.3,483.7 389.8,489.6 390.3,495.5 390.8,501.3 391.3,507.0 391.8,512.6 392.3,518.0 392.8,523.3 393.3,528.5 393.8,533.4 394.3,538.2 394.8,542.7 395.3,547.0 395.8,551.0 396.3,554.8 396.8,558.3 397.3,561.5 397.8,564.4 398.3,566.9 398.8,569.2 399.3,571.1 399.8,572.6 400.3,573.9 400.8,574.7 401.3,575.2 401.8,575.4 402.3,575.2 402.8,574.7 403.3,573.7 403.8,572.5 404.3,570.9 404.8,569.0 405.3,566.7 405.8,564.1 406.3,561.2 406.8,558.0 407.3,554.4 407.8,550.7 408.3,546.6 408.8,542.3 409.3,537.7 409.8,533.0 410.3,528.0 410.8,522.8 411.3,517.5 411.8,512.0 412.3,506.4 412.8,500.7 413.3,494.9 413.8,489.0 414.3,483.1 414.8,477.1 415.3,471.2 415.8,465.3 416.3,459.4 416.8,453.5 417.3,447.8 417.8,442.1 418.3,436.6 418.8,431.2 419.3,425.9 419.8,420.9 420.3,416.0 420.8,411.3 421.3,406.9 421.8,402.7 422.3,398.8 422.8,395.2 423.3,391.8 423.8,388.8 424.3,386.0 424.8,383.6 425.3,381.5 425.8,379.8 426.3,378.4 426.8,377.3 427.3,376.6 427.8,376.2 428.3,376.2 428.8,376.6 429.3,377.3 429.8,378.4 430.3,379.8 430.8,381.5 431.3,383.6 431.8,386.0 432.3,388.8 432.8,391.8 433.3,395.2 433.8,398.8 434.3,402.7 434.8,406.9 435.3,411.3 435.8,416.0 436.3,420.9 436.8,425.9 437.3,431.2 437.8,436.6 438.3,442.1 438.8,447.8 439.3,453.5 439.8,459.4 440.3,465.3 440.8,471.2 441.3,477.1 441.8,483.1 442.3,489.0 442.8,494.9 443.3,500.7 443.8,506.4 444.3,512.0 444.8,517.5 445.3,522.8 445.8,528.0 446.3,533.0 446.8,537.7 447.3,542.3 447.8,546.6 448.3,550.7 448.8,554.4 449.3,558.0 449.8,561.2 450.3,564.1 450.8,566.7 451.3,569.0 451.8,570.9 452.3,572.5 452.8,573.7 453.3,574.7 453.8,575.2 454.3,575.4 454.8,575.2 455.3,574.7 455.8,573.9 456.3,572.6 456.8,571.1 457.3,569.2 457.8,566.9 458.3,564.4 458.8,561.5 459.3,558.3 459.8,554.8 460.3,551.0 460.8,547.0 461.3,542.7 461.8,538.2 462.3,533.4 462.8,528.5 463.3,523.3 463.8,518.0 464.3,512.6 464.8,507.0 465.3,501.3 465.8,495.5 466.3,489.6 466.8,483.7 467.3,477.7 467.8,471.8 468.3,465.8 468.8,459.9 469.3,454.1 469.8,448.3 470.3,442.7 470.8,437.1 471.3,431.7 471.8,426.4 472.3,421.4 472.8,416.5 473.3,411.8 473.8,407.3 474.3,403.1 474.8,399.2 475.3,395.5 475.8,392.2 476.3,389.1 476.8,386.3 477.3,383.9 477.8,381.7 478.3,379.9 478.8,378.5 479.3,377.4 479.8,376.7 480.3,376.3 480.8,376.2 481.3,376.5 481.8,377.2 482.3,378.3 482.8,379.6 483.3,381.3 483.8,383.4 484.3,385.8 484.8,388.5 485.3,391.5 485.8,394.8 486.3,398.4 486.8,402.3 487.3,406.5 487.8,410.9 488.3,415.5 488.8,420.4 489.3,425.4 489.8,430.6 490.3,436.0 490.8,441.5 491.3,447.2 491.8,452.9 492.3,458.8 492.8,464.7 493.3,470.6 493.8,476.5 494.3,482.5 494.8,488.4 495.3,494.3 495.8,500.1 496.3,505.8 496.8,511.5 497.3,517.0 497.8,522.3 498.3,527.5 498.8,532.5 499.3,537.3 499.8,541.8 500.3,546.2 500.8,550.3 501.3,554.1 501.8,557.6 502.3,560.9 502.8,563.8 503.3,566.4 503.8,568.7 504.3,570.7 504.8,572.4 505.3,573.6 505.8,574.6 506.3,575.2 506.8,575.4 507.3,575.3 507.8,574.8 508.3,574.0 508.8,572.8 509.3,571.2 509.8,569.4 510.3,567.2 510.8,564.6 511.3,561.8 511.8,558.6 512.3,555.2 512.8,551.4 513.3,547.4 513.8,543.2 514.3,538.7 514.8,533.9 515.3,529.0 515.8,523.9 516.3,518.6 516.8,513.1 517.3,507.5 517.8,501.8 518.3,496.1 518.8,490.2 519.3,484.3 519.8,478.3 520.3,472.4 520.8,466.4 521.3,460.5 521.8,454.7 522.3,448.9 522.8,443.2 523.3,437.7 523.8,432.2 524.3,426.9 524.8,421.8 525.3,416.9 525.8,412.2 526.3,407.8 526.8,403.6 527.3,399.6 527.8,395.9 528.3,392.5 528.8,389.4 529.3,386.6 529.8,384.1 530.3,381.9 530.8,380.1 531.3,378.6 531.8,377.5 532.3,376.7 532.8,376.3 533.3,376.2 533.8,376.5 534.3,377.1 534.8,378.1 535.3,379.5 535.8,381.2 536.3,383.2 536.8,385.5 537.3,388.2 537.8,391.2 538.3,394.5 538.8,398.1 539.3,401.9 539.8,406.1 540.3,410.4 540.8,415.0 541.3,419.9 541.8,424.9 542.3,430.1 542.8,435.5 543.3,441.0 543.8,446.6 544.3,452.4 544.8,458.2 545.3,464.1 545.8,470.0 546.3,475.9 546.8,481.9 547.3,487.8 547.8,493.7 548.3,499.5 548.8,505.3 549.3,510.9 549.8,516.4 550.3,521.8 550.8,527.0 551.3,532.0 551.8,536.8 552.3,541.4 552.8,545.8 553.3,549.9 553.8,553.7 554.3,557.3 554.8,560.6 555.3,563.5 555.8,566.2 556.3,568.5 556.8,570.5 557.3,572.2 557.8,573.5 558.3,574.5 558.8,575.1 559.3,575.4 559.8,575.3 560.3,574.9 560.8,574.1 561.3,572.9 561.8,571.4 562.3,569.6 562.8,567.4 563.3,564.9 563.8,562.1 564.3,559.0 564.8,555.5 565.3,551.8 565.8,547.8 566.3,543.6 566.8,539.1 567.3,534.4 567.8,529.5 568.3,524.4 568.8,519.1 569.3,513.7 569.8,508.1 570.3,502.4 570.8,496.6 571.3,490.8 571.8,484.9 572.3,478.9 572.8,473.0 573.3,467.0 573.8,461.1 574.3,455.3 574.8,449.5 575.3,443.8 575.8,438.2 576.3,432.8 576.8,427.5 577.3,422.4 577.8,417.4 578.3,412.7 578.8,408.2 579.3,404.0 579.8,400.0 580.3,396.2 580.8,392.8 581.3,389.7 581.8,386.8 582.3,384.3 582.8,382.1 583.3,380.3 583.8,378.8 584.3,377.6 584.8,376.8 585.3,376.3 585.8,376.2 586.3,376.5 586.8,377.1 587.3,378.0 587.8,379.3 588.3,381.0 588.8,383.0 589.3,385.3 589.8,387.9 590.3,390.9 590.8,394.2 591.3,397.7 591.8,401.5 592.3,405.6 592.8,410.0 593.3,414.6 593.8,419.4 594.3,424.4 594.8,429.6 595.3,434.9 595.8,440.4 596.3,446.0 596.8,451.8 597.3,457.6 597.8,463.5 598.3,469.4 598.8,475.4 599.3,481.3 599.8,487.2 600.3,493.1 600.8,499.0 601.3,504.7 601.8,510.3 602.3,515.9 602.8,521.2 603.3,526.5 603.8,531.5 604.3,536.3 604.8,540.9 605.3,545.3 605.8,549.5 606.3,553.3 606.8,556.9 607.3,560.2 607.8,563.2 608.3,565.9 608.8,568.3 609.3,570.3 609.8,572.1 610.3,573.4 610.8,574.4 611.3,575.1 611.8,575.4 612.3,575.3 612.8,574.9 613.3,574.2 613.8,573.0 614.3,571.6 614.8,569.8 615.3,567.6 615.8,565.2 616.3,562.4 616.8,559.3 617.3,555.9 617.8,552.2 618.3,548.3 618.8,544.0 619.3,539.6 619.8,534.9 620.3,530.0 620.8,524.9 621.3,519.6 621.8,514.2 622.3,508.7 622.8,503.0 623.3,497.2 623.8,491.4 624.3,485.5 624.8,479.5 625.3,473.6 625.8,467.6 626.3,461.7 626.8,455.8 627.3,450.0 627.8,444.3 628.3,438.8 628.8,433.3 629.3,428.0 629.8,422.9 630.3,417.9 630.8,413.2 631.3,408.7 631.8,404.4 632.3,400.4 632.8,396.6 633.3,393.1 633.8,390.0 634.3,387.1 634.8,384.6 635.3,382.3 635.8,380.4 636.3,378.9 636.8,377.7 637.3,376.8 637.8,376.3 638.3,376.2 638.8,376.4 639.3,377.0 639.8,377.9 640.3,379.2 640.8,380.8 641.3,382.7 641.8,385.0 642.3,387.7 642.8,390.6 643.3,393.8 643.8,397.3 644.3,401.1 644.8,405.2 645.3,409.5 645.8,414.1 646.3,418.9 646.8,423.9 647.3,429.0 647.8,434.4 648.3,439.9 648.8,445.5 649.3,451.2 649.8,457.0 650.3,462.9 650.8,468.8 651.3,474.8 651.8,480.7 652.3,486.6 652.8,492.5 653.3,498.4 653.8,504.1 654.3,509.8 654.8,515.3 655.3,520.7 655.8,525.9 656.3,531.0 656.8,535.9 657.3,540.5 657.8,544.9 658.3,549.1 658.8,553.0 659.3,556.6 659.8,559.9 660.3,563.0 660.8,565.7 661.3,568.1 661.8,570.2 662.3,571.9 662.8,573.3 663.3,574.3 663.8,575.0 664.3,575.4 664.8,575.3 665.3,575.0 665.8,574.2 666.3,573.2 666.8,571.7 667.3,570.0 667.8,567.9 668.3,565.4 668.8,562.7 669.3,559.6 669.8,556.2 670.3,552.6 670.8,548.7 671.3,544.5 671.8,540.0 672.3,535.4 672.8,530.5 673.3,525.4 673.8,520.2 674.3,514.8 674.8,509.2 675.3,503.6 675.8,497.8 676.3,492.0 676.8,486.1 677.3,480.1 677.8,474.2 678.3,468.2 678.8,462.3 679.3,456.4 679.8,450.6 680.3,444.9 680.8,439.3 681.3,433.8 681.8,428.5 682.3,423.4 682.8,418.4 683.3,413.6 683.8,409.1 684.3,404.8 684.8,400.7 685.3,397.0 685.8,393.5 686.3,390.3 686.8,387.4 687.3,384.8 687.8,382.5 688.3,380.6 688.8,379.0 689.3,377.8 689.8,376.9 690.3,376.4 690.8,376.2 691.3,376.4 691.8,376.9 692.3,377.8 692.8,379.0 693.3,380.6 693.8,382.5 694.3,384.8 694.8,387.4 695.3,390.3 695.8,393.5 696.3,397.0 696.8,400.7 697.3,404.8 697.8,409.1 698.3,413.6 698.8,418.4 699.3,423.4 699.8,428.5 700.3,433.8 700.8,439.3 701.3,444.9 701.8,450.6 702.3,456.4 702.8,462.3 703.3,468.2 703.8,474.2 704.3,480.1 704.8,486.1 705.3,492.0 705.8,497.8 706.3,503.6 706.8,509.2 707.3,514.8 707.8,520.2 708.3,525.4 708.8,530.5 709.3,535.4 709.8,540.0 710.3,544.5 710.8,548.7 711.3,552.6 711.8,556.2 712.3,559.6 712.8,562.7 713.3,565.4 713.8,567.9 714.3,570.0 714.8,571.7 715.3,573.2 715.8,574.2 716.3,575.0 716.8,575.3 717.3,575.4 717.8,575.0 718.3,574.3 718.8,573.3 719.3,571.9 719.8,570.2 720.3,568.1 720.8,565.7 721.3,563.0 721.8,559.9 722.3,556.6 722.8,553.0 723.3,549.1 723.8,544.9 724.3,540.5 724.8,535.9 725.3,531.0 725.8,525.9 726.3,520.7 726.8,515.3 727.3,509.8 727.8,504.1 728.3,498.4 728.8,492.5 729.3,486.6 729.8,480.7 730.3,474.8 730.8,468.8 731.3,462.9 731.8,457.0 732.3,451.2 732.8,445.5 733.3,439.9 733.8,434.4 734.3,429.0 734.8,423.9 735.3,418.9 735.8,414.1 736.3,409.5 736.8,405.2 737.3,401.1 737.8,397.3 738.3,393.8 738.8,390.6 739.3,387.7 739.8,385.0 740.3,382.7 740.8,380.8 741.3,379.2 741.8,377.9 742.3,377.0 742.8,376.4 743.3,376.2 743.8,376.3 744.3,376.8 744.8,377.7 745.3,378.9 745.8,380.4 746.3,382.3 746.8,384.6 747.3,387.1 747.8,390.0 748.3,393.1 748.8,396.6 749.3,400.4 749.8,404.4 750.3,408.7 750.8,413.2 751.3,417.9 751.8,422.9 752.3,428.0 752.8,433.3 753.3,438.8 753.8,444.3 754.3,450.0 754.8,455.8 755.3,461.7 755.8,467.6 756.3,473.6 756.8,479.5 757.3,485.5 757.8,491.4 758.3,497.2 758.8,503.0 759.3,508.7 759.8,514.2 760.3,519.6 760.8,524.9 761.3,530.0 761.8,534.9 762.3,539.6 762.8,544.0 763.3,548.3 763.8,552.2 764.3,555.9 764.8,559.3 765.3,562.4 765.8,565.2 766.3,567.6 766.8,569.8 767.3,571.6 767.8,573.0 768.3,574.2 768.8,574.9 769.3,575.3 769.8,575.4 770.3,575.1 770.8,574.4 771.3,573.4 771.8,572.1 772.3,570.3 772.8,568.3 773.3,565.9 773.8,563.2 774.3,560.2 774.8,556.9 775.3,553.3 775.8,549.5 776.3,545.3 776.8,540.9 777.3,536.3 777.8,531.5 778.3,526.5 778.8,521.2 779.3,515.9 779.8,510.3 780.3,504.7 780.8,499.0 781.3,493.1 781.8,487.2 782.3,481.3 782.8,475.4 783.3,469.4 783.8,463.5 784.3,457.6 784.8,451.8 785.3,446.0 785.8,440.4 786.3,434.9 786.8,429.6 787.3,424.4 787.8,419.4 788.3,414.6 788.8,410.0 789.3,405.6 789.8,401.5 790.3,397.7 790.8,394.2 791.3,390.9 791.8,387.9 792.3,385.3 792.8,383.0 793.3,381.0 793.8,379.3 794.3,378.0 794.8,377.1 795.3,376.5 795.8,376.2 796.3,376.3 796.8,376.8 797.3,377.6 797.8,378.8 798.3,380.3 798.8,382.1 799.3,384.3 799.8,386.8 800.3,389.7 800.8,392.8 801.3,396.2 801.8,400.0 802.3,404.0 802.8,408.2 803.3,412.7 803.8,417.4 804.3,422.4 804.8,427.5 805.3,432.8 805.8,438.2 806.3,443.8 806.8,449.5 807.3,455.3 807.8,461.1 808.3,467.0 808.8,473.0 809.3,478.9 809.8,484.9 810.3,490.8 810.8,496.6 811.3,502.4 811.8,508.1 812.3,513.7 812.8,519.1 813.3,524.4 813.8,529.5 814.3,534.4 814.8,539.1 815.3,543.6 815.8,547.8 816.3,551.8 816.8,555.5 817.3,559.0 817.8,562.1 818.3,564.9 818.8,567.4 819.3,569.6 819.8,571.4 820.3,572.9 820.8,574.1 821.3,574.9 821.8,575.3 822.3,575.4 822.8,575.1 823.3,574.5 823.8,573.5 824.3,572.2 824.8,570.5 825.3,568.5 825.8,566.2 826.3,563.5 826.8,560.6 827.3,557.3 827.8,553.7 828.3,549.9 828.8,545.8 829.3,541.4 829.8,536.8 830.3,532.0 830.8,527.0 831.3,521.8 831.8,516.4 832.3,510.9 832.8,505.3 833.3,499.5 833.8,493.7 834.3,487.8 834.8,481.9 835.3,475.9 835.8,470.0 836.3,464.1 836.8,458.2 837.3,452.4 837.8,446.6 838.3,441.0 838.8,435.5 839.3,430.1 839.8,424.9 840.3,419.9 840.8,415.0 841.3,410.4 841.8,406.1 842.3,401.9 842.8,398.1 843.3,394.5 843.8,391.2 844.3,388.2 844.8,385.5 845.3,383.2 845.8,381.2 846.3,379.5 846.8,378.1 847.3,377.1 847.8,376.5 848.3,376.2 848.8,376.3 849.3,376.7 849.8,377.5 850.3,378.6 850.8,380.1 851.3,381.9 851.8,384.1 852.3,386.6 852.8,389.4 853.3,392.5 853.8,395.9 854.3,399.6 854.8,403.6 855.3,407.8 855.8,412.2 856.3,416.9 856.8,421.8 857.3,426.9 857.8,432.2 858.3,437.7 858.8,443.2 859.3,448.9 859.8,454.7 860.3,460.5 860.8,466.4 861.3,472.4 861.8,478.3 862.3,484.3 862.8,490.2 863.3,496.1 863.8,501.8 864.3,507.5 864.8,513.1 865.3,518.6 865.8,523.9 866.3,529.0 866.8,533.9 867.3,538.7 867.8,543.2 868.3,547.4 868.8,551.4 869.3,555.2 869.8,558.6 870.3,561.8 870.8,564.6 871.3,567.2 871.8,569.4 872.3,571.2 872.8,572.8 873.3,574.0 873.8,574.8 874.3,575.3 874.8,575.4 875.3,575.2 875.8,574.6 876.3,573.6 876.8,572.4 877.3,570.7 877.8,568.7 878.3,566.4 878.8,563.8 879.3,560.9 879.8,557.6 880.3,554.1 880.8,550.3 881.3,546.2 881.8,541.8 882.3,537.3 882.8,532.5 883.3,527.5 883.8,522.3 884.3,517.0 884.8,511.5 885.3,505.8 885.8,500.1 886.3,494.3 886.8,488.4 887.3,482.5 887.8,476.5 888.3,470.6 888.8,464.7 889.3,458.8 889.8,452.9 890.3,447.2 890.8,441.5 891.3,436.0 891.8,430.6 892.3,425.4 892.8,420.4 893.3,415.5 893.8,410.9 894.3,406.5 894.8,402.3 895.3,398.4 895.8,394.8 896.3,391.5 896.8,388.5 897.3,385.8 897.8,383.4 898.3,381.3 898.8,379.6 899.3,378.3 899.8,377.2 900.3,376.5 900.8,376.2 901.3,376.3 901.8,376.7 902.3,377.4 902.8,378.5 903.3,379.9 903.8,381.7 904.3,383.9 904.8,386.3" fill="none" stroke="#9e1f1f" stroke-width="1.9" stroke-dasharray="3.7 1.9"/>
<polyline points="352.7,566.4 354.5,571.3 356.2,566.4 357.6,552.0 359.0,512.0 360.7,487.5 362.1,496.6 363.9,525.3 364.6,514.8 366.0,508.5 367.4,521.8 369.1,533.7 370.5,534.7 372.3,527.4 373.0,500.8 373.7,450.0 374.4,431.1 375.5,429.7 377.5,412.2 378.6,408.7 380.0,417.8 381.7,438.8 383.5,464.0 384.6,445.8 385.3,443.7 385.9,455.6 386.6,464.0 387.2,486.8 388.7,504.3 389.8,492.4 391.5,494.5 393.3,494.5 394.0,502.2 395.1,502.2 395.7,509.2 396.8,502.9 398.2,512.0 399.9,537.2 400.7,537.2 402.4,512.0 404.1,484.0 405.2,488.2 407.3,479.8 408.0,469.6 410.1,454.2 411.5,452.8 413.3,456.3 415.0,464.7 417.1,447.2 418.5,433.2 420.6,431.8 422.7,416.4 424.6,409.4 426.0,416.4 427.6,433.2 429.0,445.8 430.7,466.8 431.6,468.2 433.5,442.3 434.9,448.6 436.7,464.0 438.1,482.6 439.5,489.6 441.4,481.2 443.0,502.2 444.4,528.8 445.1,552.5 447.0,543.5 448.9,557.0 451.0,569.9 451.7,534.3 453.0,555.3 454.2,512.0 455.6,488.2 456.6,477.2 457.5,516.2 459.1,540.0 460.1,514.8 461.2,537.2 462.0,541.2 462.9,534.3 464.0,558.0 465.2,566.4 466.6,568.6 467.5,560.1 468.2,551.0 468.9,507.8 469.6,525.3 470.0,480.0 470.3,459.8 471.7,448.6 472.7,452.8 473.9,443.7 475.0,443.7 475.5,459.8 476.7,426.2 477.8,401.0 479.2,406.6 480.2,401.0 482.0,394.3 483.6,402.0 484.9,429.0 486.3,458.4 487.0,486.8 487.7,474.2 488.4,450.0 489.8,445.1 490.9,458.4 491.9,476.0 493.3,464.0 494.0,472.4 495.4,469.6 497.5,476.6 498.2,479.8 499.6,488.2 500.2,472.6 501.0,491.0 502.1,505.0 503.1,534.4 504.1,525.3 505.2,527.4 506.6,541.4 507.6,546.5 508.7,537.2 510.1,516.2 511.5,488.2 512.2,476.0 512.9,519.0 513.4,456.0 514.3,470.0 515.0,496.6 515.7,462.0 516.4,417.1 517.8,447.2 518.9,429.0 519.6,484.0 520.3,452.8 521.7,422.0 522.7,420.6 523.7,403.1 524.8,422.0 526.2,401.0 527.3,434.6 528.3,398.2 529.7,433.9 530.7,387.0 531.8,401.0 532.9,436.0 533.9,468.0 534.6,496.6 535.3,486.8 536.0,502.2 537.1,526.0 537.4,548.2 538.5,553.8 539.5,573.4 539.9,562.2 541.6,560.1 543.0,548.2 544.4,538.4 545.8,526.0 547.2,520.4 548.6,479.8 549.3,506.4 550.7,507.8 552.1,509.2 552.8,456.3 554.2,469.6 555.6,426.2 556.7,412.2 557.7,426.2 559.1,445.8 559.8,462.6 560.5,451.4 561.7,451.4 562.6,471.0 564.0,495.2 564.7,498.0 565.4,535.8 566.8,528.8 568.9,509.2 570.3,492.4 571.7,495.2 572.4,482.6 574.1,478.4 575.0,485.4 575.7,495.2 576.2,484.0 577.3,510.6 578.7,534.4 579.2,519.0 580.1,484.0 580.4,465.0 580.8,469.6 582.9,452.8 583.9,475.0 584.3,436.0 585.7,420.6 586.4,436.0 587.6,415.0 589.2,410.1 590.6,413.6 592.0,402.4 593.4,410.1 594.6,422.0 596.2,443.0 597.6,462.6 598.3,474.0 599.0,500.1 600.2,486.8 601.1,506.4 602.1,488.2 603.2,477.0 603.9,471.0 606.0,461.9 607.5,475.4 609.6,466.1 611.0,476.0 611.9,498.7 613.0,484.0 614.2,488.9 615.0,464.0 615.8,482.0 617.2,444.4 618.6,452.8 619.9,477.0 620.9,461.2 621.7,477.0 622.7,448.6 624.1,461.2 625.5,440.9 626.9,454.2 628.3,474.0 629.0,497.3 629.6,457.0 630.1,488.2 630.7,505.0 632.1,482.6 633.2,488.2 634.2,531.6 635.3,509.2 636.4,484.0 636.7,469.6 637.4,488.2 638.1,469.6 639.9,441.6 641.6,417.8 642.7,415.7 643.4,430.4 644.4,401.7 645.5,413.6 646.5,458.4 647.5,426.2 648.6,414.3 649.7,441.6 650.3,456.0 650.7,496.6 651.4,460.0 652.0,474.0 652.8,505.0 654.9,514.1 656.7,520.4 657.7,534.4 658.1,480.0 658.4,436.0 659.5,409.4 660.5,422.0 661.2,433.2 662.9,415.7 664.0,421.3 665.1,410.1 666.1,394.0 667.1,394.0 668.2,407.3 670.3,409.4 671.7,410.8 673.1,401.0 674.1,396.1 675.5,407.3 676.6,407.3 677.7,398.9 679.1,403.8 680.1,413.6 681.5,401.0 682.9,412.2 684.3,401.0 685.7,396.1 686.4,390.5 687.1,401.0 688.1,413.6 689.2,413.6 690.3,406.6 691.3,420.6 692.0,447.2 692.7,457.0 694.1,466.0 695.1,502.2 695.9,526.0 696.9,502.2 697.9,481.9 699.0,488.2 700.4,512.0 701.1,498.0 702.1,520.4 703.0,504.3 704.6,502.9 705.8,516.2 706.7,558.2 707.7,530.2 708.8,546.3 710.2,526.0 711.6,514.8 713.0,512.0 714.7,509.9 715.8,488.2 716.1,464.0 717.0,425.5 717.6,517.6 718.2,480.0 718.6,458.4 720.0,438.8 721.2,436.0 722.1,417.8 723.5,417.1 724.9,429.0 725.9,436.0 727.0,435.3 728.2,408.7 728.7,420.6 729.6,412.9 730.5,426.2 731.9,441.6 732.9,448.6 734.0,429.0 735.2,408.0 736.1,389.1 737.1,390.5 738.0,403.8 738.9,416.4 740.1,428.3 741.1,424.8 742.5,429.0 743.6,438.8 745.0,448.6 746.0,466.0 746.7,499.4 747.4,477.0 748.7,476.6 750.4,468.5 751.6,486.1 752.9,524.8 754.0,510.3 755.2,520.0 756.4,511.9 758.1,513.5 759.3,489.3 760.5,499.0 762.1,502.2 763.7,499.0 765.8,507.1 766.9,489.3 768.0,511.9 769.3,518.3 770.5,536.1 771.8,518.3 773.8,499.0 775.0,510.3 776.6,491.8 778.2,508.7 779.8,486.1 780.6,467.5 782.2,477.0 783.8,469.9 784.6,481.3 785.6,476.0 787.4,465.1 788.0,474.0 788.7,486.1 790.3,466.7 792.2,462.7 794.3,473.1 795.9,482.9 797.5,520.0 798.3,486.1 799.1,476.0 799.6,473.1 801.2,459.4 801.9,474.0 802.6,478.1 803.2,486.1 804.3,454.6 805.6,505.4 807.2,491.0 808.8,529.6 809.9,511.9 811.2,505.4 812.8,518.3 814.5,502.2 815.3,478.0 815.7,451.4 816.7,502.2 817.6,469.9 818.5,455.4 819.6,466.7 820.3,481.3 822.5,465.1 823.1,472.0 823.8,479.7 826.1,461.8 827.2,480.0 827.7,518.3 828.6,548.9 830.6,549.8 832.2,553.8 833.5,563.5 835.1,552.2 837.0,548.9 838.3,518.3 839.9,502.2 841.4,490.9 842.7,516.7 843.5,476.4 845.1,486.1 846.4,476.4 847.5,450.6 848.6,402.2 849.9,389.3 851.2,382.9 852.3,379.7 853.9,382.9 855.5,389.3 857.2,394.2 858.8,407.1 860.4,418.3 861.2,445.7 861.5,416.7 862.8,415.1 863.6,424.8 864.7,452.2 865.7,440.9 866.6,466.7 868.0,526.4 869.2,545.7 870.5,550.6 871.7,563.5 873.3,566.7 874.4,557.0 875.4,549.8 876.5,553.8 877.8,536.9 878.9,540.9 880.2,536.1 880.8,550.6 882.1,535.3 882.9,540.9 884.1,515.1 885.0,497.4 885.8,503.8 886.6,513.5" fill="none" stroke="#0a0a0a" stroke-width="1.35" stroke-linejoin="round"/>
<line x1="530.9" x2="568.5" y1="626.9" y2="626.9" stroke="#9e1f1f" stroke-width="2.2" stroke-linecap="round" stroke-dasharray="6.3 4.05"/>
<text x="573.2" y="629.2" class="lg">65-Month Wave</text>
<line x1="655.8" x2="692.4" y1="626.9" y2="626.9" stroke="#0a0a0a" stroke-width="2.5" stroke-linecap="round"/>
<text x="697" y="629.2" class="lg">GLI</text>
</svg>
<div class="base" id="b2" style="left:255.2px;top:658.7px;width:729.5px;height:12.3px"><div class="notch" style="left:312.7px;width:104.10000000000002px"></div></div><svg class="under" style="left:255.2px;top:670.6px" width="729.5" height="18" viewBox="0 0 729.5 18"><defs><linearGradient id="ub2" gradientUnits="userSpaceOnUse" x1="0" y1="0" x2="0" y2="16"><stop offset="0" stop-color="#141414"/><stop offset="0.14" stop-color="#383838"/><stop offset="0.38" stop-color="#2b2b2b"/><stop offset="0.7" stop-color="#101010"/><stop offset="1" stop-color="#000"/></linearGradient></defs><path d="M0,0 L0.0,0.00 L1.0,0.00 L2.0,0.08 L3.0,0.19 L4.0,0.32 L5.0,0.47 L6.0,0.62 L7.0,0.78 L8.0,0.95 L9.0,1.12 L10.0,1.30 L11.0,1.48 L12.0,1.67 L13.0,1.86 L14.0,2.05 L15.0,2.24 L16.0,2.43 L17.0,2.63 L18.0,2.82 L19.0,3.02 L20.0,3.21 L21.0,3.41 L22.0,3.61 L23.0,3.80 L24.0,4.00 L25.0,4.19 L26.0,4.39 L27.0,4.58 L28.0,4.77 L29.0,4.96 L30.0,5.15 L31.0,5.34 L32.0,5.53 L33.0,5.71 L34.0,5.90 L35.0,6.08 L36.0,6.26 L37.0,6.44 L38.0,6.61 L39.0,6.79 L40.0,6.96 L41.0,7.13 L42.0,7.30 L43.0,7.47 L44.0,7.63 L45.0,7.80 L46.0,7.96 L47.0,8.12 L48.0,8.27 L49.0,8.43 L50.0,8.58 L51.0,8.73 L52.0,8.88 L53.0,9.02 L54.0,9.17 L55.0,9.31 L56.0,9.45 L57.0,9.59 L58.0,9.72 L59.0,9.85 L60.0,9.99 L61.0,10.11 L62.0,10.24 L63.0,10.36 L64.0,10.49 L65.0,10.61 L66.0,10.73 L67.0,10.84 L68.0,10.96 L69.0,11.07 L70.0,11.18 L71.0,11.29 L72.0,11.39 L73.0,11.50 L74.0,11.60 L75.0,11.70 L76.0,11.80 L77.0,11.89 L78.0,11.99 L79.0,12.08 L80.0,12.17 L81.0,12.26 L82.0,12.35 L83.0,12.43 L84.0,12.52 L85.0,12.60 L86.0,12.68 L87.0,12.76 L88.0,12.84 L89.0,12.91 L90.0,12.99 L91.0,13.06 L92.0,13.13 L93.0,13.20 L94.0,13.27 L95.0,13.34 L96.0,13.40 L97.0,13.46 L98.0,13.53 L99.0,13.59 L100.0,13.65 L101.0,13.71 L102.0,13.76 L103.0,13.82 L104.0,13.87 L105.0,13.93 L106.0,13.98 L107.0,14.03 L108.0,14.08 L109.0,14.13 L110.0,14.18 L111.0,14.23 L112.0,14.27 L113.0,14.32 L114.0,14.36 L115.0,14.40 L116.0,14.44 L117.0,14.48 L118.0,14.52 L119.0,14.56 L120.0,14.60 L121.0,14.64 L122.0,14.67 L123.0,14.71 L124.0,14.74 L125.0,14.77 L126.0,14.81 L127.0,14.84 L128.0,14.87 L129.0,14.90 L130.0,14.93 L131.0,14.96 L132.0,14.99 L133.0,15.01 L134.0,15.04 L135.0,15.07 L136.0,15.09 L137.0,15.12 L138.0,15.14 L139.0,15.16 L140.0,15.19 L141.0,15.21 L142.0,15.23 L143.0,15.25 L144.0,15.27 L145.0,15.29 L146.0,15.31 L147.0,15.33 L148.0,15.35 L149.0,15.37 L150.0,15.39 L151.0,15.40 L152.0,15.42 L153.0,15.44 L154.0,15.45 L155.0,15.47 L156.0,15.48 L157.0,15.50 L158.0,15.51 L159.0,15.53 L160.0,15.54 L161.0,15.55 L162.0,15.57 L163.0,15.58 L164.0,15.59 L165.0,15.60 L166.0,15.61 L167.0,15.63 L168.0,15.64 L169.0,15.65 L170.0,15.66 L171.0,15.67 L172.0,15.68 L173.0,15.69 L174.0,15.70 L175.0,15.70 L176.0,15.71 L177.0,15.72 L178.0,15.73 L179.0,15.74 L180.0,15.75 L181.0,15.75 L182.0,15.76 L183.0,15.77 L184.0,15.77 L185.0,15.78 L186.0,15.79 L187.0,15.79 L188.0,15.80 L189.0,15.81 L190.0,15.81 L191.0,15.82 L192.0,15.82 L193.0,15.83 L194.0,15.83 L195.0,15.84 L196.0,15.84 L197.0,15.85 L198.0,15.85 L199.0,15.86 L200.0,15.86 L201.0,15.87 L202.0,15.87 L203.0,15.87 L204.0,15.88 L205.0,15.88 L206.0,15.89 L207.0,15.89 L208.0,15.89 L209.0,15.90 L210.0,15.90 L211.0,15.90 L212.0,15.91 L213.0,15.91 L214.0,15.91 L215.0,15.91 L216.0,15.92 L217.0,15.92 L218.0,15.92 L219.0,15.92 L220.0,15.93 L221.0,15.93 L222.0,15.93 L223.0,15.93 L224.0,15.94 L225.0,15.94 L226.0,15.94 L227.0,15.94 L228.0,15.94 L229.0,15.94 L230.0,15.95 L231.0,15.95 L232.0,15.95 L233.0,15.95 L234.0,15.95 L235.0,15.95 L236.0,15.96 L237.0,15.96 L238.0,15.96 L239.0,15.96 L240.0,15.96 L241.0,15.96 L242.0,15.96 L243.0,15.97 L244.0,15.97 L245.0,15.97 L246.0,15.97 L247.0,15.97 L248.0,15.97 L249.0,15.97 L250.0,15.97 L251.0,15.97 L252.0,15.97 L253.0,15.97 L254.0,15.98 L255.0,15.98 L256.0,15.98 L257.0,15.98 L258.0,15.98 L259.0,15.98 L260.0,15.98 L261.0,15.98 L262.0,15.98 L263.0,15.98 L264.0,15.98 L265.0,15.98 L266.0,15.98 L267.0,15.98 L268.0,15.98 L269.0,15.99 L270.0,15.99 L271.0,15.99 L272.0,15.99 L273.0,15.99 L274.0,15.99 L275.0,15.99 L276.0,15.99 L277.0,15.99 L278.0,15.99 L279.0,15.99 L280.0,15.99 L281.0,15.99 L282.0,15.99 L283.0,15.99 L284.0,15.99 L285.0,15.99 L286.0,15.99 L287.0,15.99 L288.0,15.99 L289.0,15.99 L290.0,15.99 L291.0,15.99 L292.0,15.99 L293.0,15.99 L294.0,15.99 L295.0,15.99 L296.0,15.99 L297.0,15.99 L298.0,15.99 L299.0,15.99 L300.0,15.99 L301.0,16.00 L302.0,16.00 L303.0,16.00 L304.0,16.00 L305.0,16.00 L306.0,16.00 L307.0,16.00 L308.0,16.00 L309.0,16.00 L310.0,16.00 L311.0,16.00 L312.0,16.00 L313.0,16.00 L314.0,16.00 L315.0,16.00 L316.0,16.00 L317.0,16.00 L318.0,16.00 L319.0,16.00 L320.0,16.00 L321.0,16.00 L322.0,16.00 L323.0,16.00 L324.0,16.00 L325.0,16.00 L326.0,16.00 L327.0,16.00 L328.0,16.00 L329.0,16.00 L330.0,16.00 L331.0,16.00 L332.0,16.00 L333.0,16.00 L334.0,16.00 L335.0,16.00 L336.0,16.00 L337.0,16.00 L338.0,16.00 L339.0,16.00 L340.0,16.00 L341.0,16.00 L342.0,16.00 L343.0,16.00 L344.0,16.00 L345.0,16.00 L346.0,16.00 L347.0,16.00 L348.0,16.00 L349.0,16.00 L350.0,16.00 L351.0,16.00 L352.0,16.00 L353.0,16.00 L354.0,16.00 L355.0,16.00 L356.0,16.00 L357.0,16.00 L358.0,16.00 L359.0,16.00 L360.0,16.00 L361.0,16.00 L362.0,16.00 L363.0,16.00 L364.0,16.00 L365.0,16.00 L366.0,16.00 L367.0,16.00 L368.0,16.00 L369.0,16.00 L370.0,16.00 L371.0,16.00 L372.0,16.00 L373.0,16.00 L374.0,16.00 L375.0,16.00 L376.0,16.00 L377.0,16.00 L378.0,16.00 L379.0,16.00 L380.0,16.00 L381.0,16.00 L382.0,16.00 L383.0,16.00 L384.0,16.00 L385.0,16.00 L386.0,16.00 L387.0,16.00 L388.0,16.00 L389.0,16.00 L390.0,16.00 L391.0,16.00 L392.0,16.00 L393.0,16.00 L394.0,16.00 L395.0,16.00 L396.0,16.00 L397.0,16.00 L398.0,16.00 L399.0,16.00 L400.0,16.00 L401.0,16.00 L402.0,16.00 L403.0,16.00 L404.0,16.00 L405.0,16.00 L406.0,16.00 L407.0,16.00 L408.0,16.00 L409.0,16.00 L410.0,16.00 L411.0,16.00 L412.0,16.00 L413.0,16.00 L414.0,16.00 L415.0,16.00 L416.0,16.00 L417.0,16.00 L418.0,16.00 L419.0,16.00 L420.0,16.00 L421.0,16.00 L422.0,16.00 L423.0,16.00 L424.0,16.00 L425.0,16.00 L426.0,16.00 L427.0,16.00 L428.0,16.00 L429.0,16.00 L430.0,15.99 L431.0,15.99 L432.0,15.99 L433.0,15.99 L434.0,15.99 L435.0,15.99 L436.0,15.99 L437.0,15.99 L438.0,15.99 L439.0,15.99 L440.0,15.99 L441.0,15.99 L442.0,15.99 L443.0,15.99 L444.0,15.99 L445.0,15.99 L446.0,15.99 L447.0,15.99 L448.0,15.99 L449.0,15.99 L450.0,15.99 L451.0,15.99 L452.0,15.99 L453.0,15.99 L454.0,15.99 L455.0,15.99 L456.0,15.99 L457.0,15.99 L458.0,15.99 L459.0,15.99 L460.0,15.99 L461.0,15.99 L462.0,15.98 L463.0,15.98 L464.0,15.98 L465.0,15.98 L466.0,15.98 L467.0,15.98 L468.0,15.98 L469.0,15.98 L470.0,15.98 L471.0,15.98 L472.0,15.98 L473.0,15.98 L474.0,15.98 L475.0,15.98 L476.0,15.98 L477.0,15.97 L478.0,15.97 L479.0,15.97 L480.0,15.97 L481.0,15.97 L482.0,15.97 L483.0,15.97 L484.0,15.97 L485.0,15.97 L486.0,15.97 L487.0,15.96 L488.0,15.96 L489.0,15.96 L490.0,15.96 L491.0,15.96 L492.0,15.96 L493.0,15.96 L494.0,15.96 L495.0,15.95 L496.0,15.95 L497.0,15.95 L498.0,15.95 L499.0,15.95 L500.0,15.95 L501.0,15.94 L502.0,15.94 L503.0,15.94 L504.0,15.94 L505.0,15.94 L506.0,15.93 L507.0,15.93 L508.0,15.93 L509.0,15.93 L510.0,15.93 L511.0,15.92 L512.0,15.92 L513.0,15.92 L514.0,15.92 L515.0,15.91 L516.0,15.91 L517.0,15.91 L518.0,15.90 L519.0,15.90 L520.0,15.90 L521.0,15.89 L522.0,15.89 L523.0,15.89 L524.0,15.88 L525.0,15.88 L526.0,15.88 L527.0,15.87 L528.0,15.87 L529.0,15.86 L530.0,15.86 L531.0,15.86 L532.0,15.85 L533.0,15.85 L534.0,15.84 L535.0,15.84 L536.0,15.83 L537.0,15.83 L538.0,15.82 L539.0,15.81 L540.0,15.81 L541.0,15.80 L542.0,15.80 L543.0,15.79 L544.0,15.78 L545.0,15.78 L546.0,15.77 L547.0,15.76 L548.0,15.76 L549.0,15.75 L550.0,15.74 L551.0,15.73 L552.0,15.73 L553.0,15.72 L554.0,15.71 L555.0,15.70 L556.0,15.69 L557.0,15.68 L558.0,15.67 L559.0,15.66 L560.0,15.65 L561.0,15.64 L562.0,15.63 L563.0,15.62 L564.0,15.61 L565.0,15.60 L566.0,15.58 L567.0,15.57 L568.0,15.56 L569.0,15.55 L570.0,15.53 L571.0,15.52 L572.0,15.51 L573.0,15.49 L574.0,15.48 L575.0,15.46 L576.0,15.45 L577.0,15.43 L578.0,15.41 L579.0,15.40 L580.0,15.38 L581.0,15.36 L582.0,15.34 L583.0,15.32 L584.0,15.30 L585.0,15.28 L586.0,15.26 L587.0,15.24 L588.0,15.22 L589.0,15.20 L590.0,15.18 L591.0,15.15 L592.0,15.13 L593.0,15.11 L594.0,15.08 L595.0,15.05 L596.0,15.03 L597.0,15.00 L598.0,14.97 L599.0,14.94 L600.0,14.92 L601.0,14.89 L602.0,14.85 L603.0,14.82 L604.0,14.79 L605.0,14.76 L606.0,14.72 L607.0,14.69 L608.0,14.65 L609.0,14.62 L610.0,14.58 L611.0,14.54 L612.0,14.50 L613.0,14.46 L614.0,14.42 L615.0,14.38 L616.0,14.34 L617.0,14.29 L618.0,14.25 L619.0,14.20 L620.0,14.15 L621.0,14.11 L622.0,14.06 L623.0,14.01 L624.0,13.95 L625.0,13.90 L626.0,13.85 L627.0,13.79 L628.0,13.74 L629.0,13.68 L630.0,13.62 L631.0,13.56 L632.0,13.50 L633.0,13.43 L634.0,13.37 L635.0,13.30 L636.0,13.23 L637.0,13.17 L638.0,13.10 L639.0,13.02 L640.0,12.95 L641.0,12.87 L642.0,12.80 L643.0,12.72 L644.0,12.64 L645.0,12.56 L646.0,12.48 L647.0,12.39 L648.0,12.30 L649.0,12.22 L650.0,12.13 L651.0,12.03 L652.0,11.94 L653.0,11.84 L654.0,11.75 L655.0,11.65 L656.0,11.55 L657.0,11.44 L658.0,11.34 L659.0,11.23 L660.0,11.12 L661.0,11.01 L662.0,10.90 L663.0,10.78 L664.0,10.67 L665.0,10.55 L666.0,10.43 L667.0,10.30 L668.0,10.18 L669.0,10.05 L670.0,9.92 L671.0,9.79 L672.0,9.65 L673.0,9.52 L674.0,9.38 L675.0,9.24 L676.0,9.10 L677.0,8.95 L678.0,8.81 L679.0,8.66 L680.0,8.50 L681.0,8.35 L682.0,8.20 L683.0,8.04 L684.0,7.88 L685.0,7.72 L686.0,7.55 L687.0,7.39 L688.0,7.22 L689.0,7.05 L690.0,6.88 L691.0,6.70 L692.0,6.53 L693.0,6.35 L694.0,6.17 L695.0,5.99 L696.0,5.80 L697.0,5.62 L698.0,5.43 L699.0,5.25 L700.0,5.06 L701.0,4.87 L702.0,4.68 L703.0,4.48 L704.0,4.29 L705.0,4.10 L706.0,3.90 L707.0,3.70 L708.0,3.51 L709.0,3.31 L710.0,3.12 L711.0,2.92 L712.0,2.72 L713.0,2.53 L714.0,2.34 L715.0,2.14 L716.0,1.95 L717.0,1.76 L718.0,1.58 L719.0,1.39 L720.0,1.21 L721.0,1.04 L722.0,0.87 L723.0,0.70 L724.0,0.54 L725.0,0.39 L726.0,0.25 L727.0,0.13 L728.0,0.03 L729.0,0.00 L729.5,0 Z" fill="url(#ub2)"/></svg>
</div></div>
</body></html>
